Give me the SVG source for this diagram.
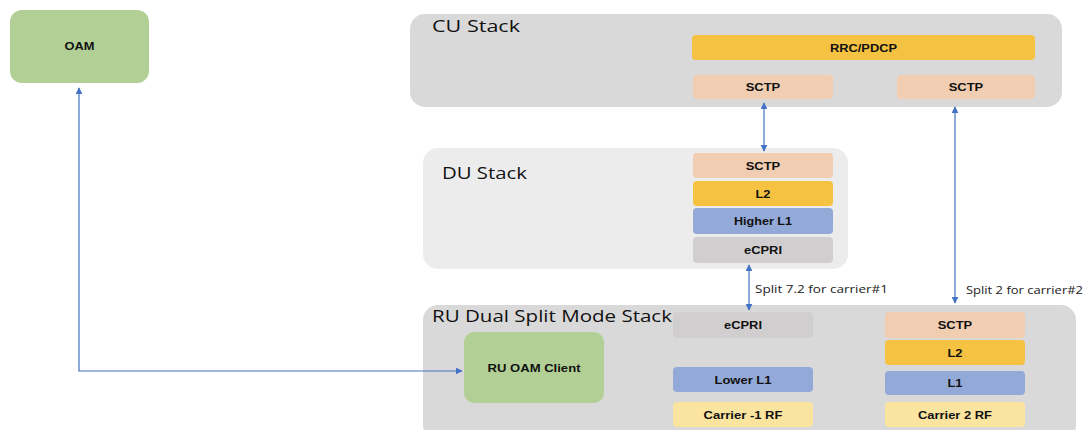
<svg xmlns="http://www.w3.org/2000/svg" width="1086" height="430" viewBox="0 0 1086 430">
<style>
.stack{fill:#d9d9d9}
.du{fill:#ececec}
.green{fill:#b2d095}
.title{font-family:"Open Sans","Noto Sans",sans-serif;font-size:15.5px;fill:#111}
.lbl{font-family:"Liberation Sans",Arial,sans-serif;font-size:10.5px;font-weight:bold;fill:#111;text-anchor:middle;dominant-baseline:central}
.note{font-family:"Open Sans","Noto Sans",sans-serif;font-size:10.5px;fill:#222}
.yel{fill:#f5c242}
.sctp{fill:#f1cdb1}
.blue{fill:#93a9d8}
.gray{fill:#d0cece}
.rf{fill:#fbe4a0}
.conn{stroke:#4472c4;stroke-width:1.2;fill:none}
</style>
<defs>
<marker id="ah" viewBox="0 0 10 10" refX="9" refY="5" markerWidth="7" markerHeight="7" markerUnits="userSpaceOnUse" orient="auto-start-reverse">
<path d="M0,0 L10,5 L0,10 z" fill="#4472c4"/>
</marker>
</defs>
<rect width="1086" height="430" fill="#fff"/>

<g id="oam">
<rect class="green" x="10" y="10" width="139" height="73" rx="12"/>
<text class="lbl" x="79.5" y="46" textLength="30" lengthAdjust="spacingAndGlyphs">OAM</text>
</g>

<g id="cu-stack">
<rect class="stack" x="410" y="14" width="652" height="93" rx="15"/>
<text class="title" x="432" y="32" textLength="88" lengthAdjust="spacingAndGlyphs">CU Stack</text>
<g id="cu-rrc"><rect class="yel" x="692" y="35" width="343" height="25" rx="4"/><text class="lbl" x="863.5" y="47.5" textLength="67" lengthAdjust="spacingAndGlyphs">RRC/PDCP</text></g>
<g id="cu-sctp1"><rect class="sctp" x="693" y="75" width="140" height="24" rx="4"/><text class="lbl" x="763" y="87" textLength="34.5" lengthAdjust="spacingAndGlyphs">SCTP</text></g>
<g id="cu-sctp2"><rect class="sctp" x="897" y="75" width="138" height="24" rx="4"/><text class="lbl" x="966" y="87" textLength="34.5" lengthAdjust="spacingAndGlyphs">SCTP</text></g>
</g>

<g id="du-stack">
<rect class="du" x="423" y="148" width="425" height="121" rx="15"/>
<text class="title" x="442" y="179" textLength="85" lengthAdjust="spacingAndGlyphs">DU Stack</text>
<g id="du-sctp"><rect class="sctp" x="693" y="153" width="140" height="25" rx="4"/><text class="lbl" x="763" y="165.5" textLength="34.5" lengthAdjust="spacingAndGlyphs">SCTP</text></g>
<g id="du-l2"><rect class="yel" x="693" y="181" width="140" height="25" rx="4"/><text class="lbl" x="763" y="193.5" textLength="15" lengthAdjust="spacingAndGlyphs">L2</text></g>
<g id="du-hl1"><rect class="blue" x="693" y="208" width="140" height="26" rx="4"/><text class="lbl" x="763" y="221" textLength="58" lengthAdjust="spacingAndGlyphs">Higher L1</text></g>
<g id="du-ecpri"><rect class="gray" x="693" y="237" width="140" height="26" rx="4"/><text class="lbl" x="763" y="250" textLength="38" lengthAdjust="spacingAndGlyphs">eCPRI</text></g>
</g>

<g id="ru-stack">
<rect class="stack" x="423" y="305" width="653" height="135" rx="15"/>
<text class="title" x="432" y="322" textLength="240" lengthAdjust="spacingAndGlyphs">RU Dual Split Mode Stack</text>
<g id="ru-oam"><rect class="green" x="464" y="332" width="140" height="71" rx="10"/><text class="lbl" x="534" y="367.5" textLength="93" lengthAdjust="spacingAndGlyphs">RU OAM Client</text></g>
<g id="ru-ecpri"><rect class="gray" x="673" y="312" width="140" height="26" rx="4"/><text class="lbl" x="743" y="325" textLength="38" lengthAdjust="spacingAndGlyphs">eCPRI</text></g>
<g id="ru-ll1"><rect class="blue" x="673" y="367" width="140" height="25" rx="4"/><text class="lbl" x="743" y="379.5" textLength="57" lengthAdjust="spacingAndGlyphs">Lower L1</text></g>
<g id="ru-rf1"><rect class="rf" x="673" y="402" width="140" height="25" rx="4"/><text class="lbl" x="743" y="414.5" textLength="79" lengthAdjust="spacingAndGlyphs">Carrier -1 RF</text></g>
<g id="ru-sctp"><rect class="sctp" x="885" y="312" width="140" height="26" rx="4"/><text class="lbl" x="955" y="325" textLength="34.5" lengthAdjust="spacingAndGlyphs">SCTP</text></g>
<g id="ru-l2"><rect class="yel" x="885" y="340" width="140" height="25" rx="4"/><text class="lbl" x="955" y="352.5" textLength="15" lengthAdjust="spacingAndGlyphs">L2</text></g>
<g id="ru-l1"><rect class="blue" x="885" y="371" width="140" height="24" rx="4"/><text class="lbl" x="955" y="383" textLength="15" lengthAdjust="spacingAndGlyphs">L1</text></g>
<g id="ru-rf2"><rect class="rf" x="885" y="402" width="140" height="25" rx="4"/><text class="lbl" x="955" y="414.5" textLength="74" lengthAdjust="spacingAndGlyphs">Carrier 2 RF</text></g>
</g>

<g id="connectors">
<path class="conn" d="M764,103 L764,151" marker-start="url(#ah)" marker-end="url(#ah)"/>
<path class="conn" d="M749,265 L749,310" marker-start="url(#ah)" marker-end="url(#ah)"/>
<path class="conn" d="M955,107 L955,303" marker-start="url(#ah)" marker-end="url(#ah)"/>
<path class="conn" d="M79,88 L79,371 L462,371" marker-start="url(#ah)" marker-end="url(#ah)"/>
<text class="note" x="755" y="293" textLength="133" lengthAdjust="spacingAndGlyphs">Split 7.2 for carrier#1</text>
<text class="note" x="966" y="294" textLength="117" lengthAdjust="spacingAndGlyphs">Split 2 for carrier#2</text>
</g>
</svg>
